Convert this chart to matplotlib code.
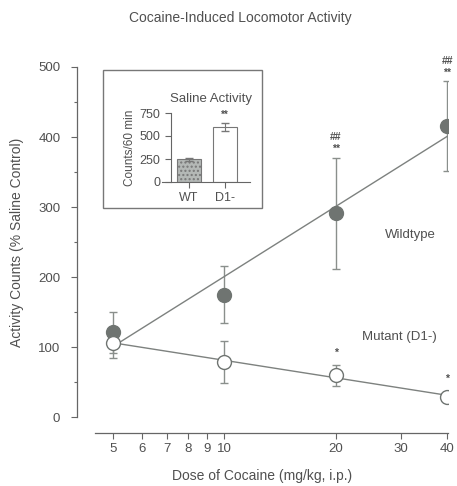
import numpy as np
import matplotlib
matplotlib.use('Agg')
import matplotlib.pyplot as plt
from matplotlib.ticker import FixedLocator, NullFormatter
from matplotlib.patches import Rectangle

plt.rcParams['font.family'] = ['Liberation Sans', 'DejaVu Sans']

# data
dose = [5, 10, 20, 40]
wt_mean = [121, 175, 291, 416]
wt_err = [29, 41, 79, 64]
mut_mean = [106, 79, 60, 29]
mut_err = [22, 30, 15, 4]

wt_marks = [(20, 383, '**'), (20, 400, '##'), (40, 491, '**'), (40, 509, '##')]
mut_marks = [(20, 91, '*'), (40, 54, '*')]

saline_groups = ['WT', 'D1-']
saline_mean = [245, 600]
saline_err = [20, 45]

grey = '#6f7471'
txt = '#505050'

fig = plt.figure(figsize=(4.57, 4.86), dpi=100)
ax = fig.add_axes([77/457, 1-417/486, 371/457, 350/486])

ax.set_xscale('log')
ax.set_xlim(4.0, 40.2)
ax.set_ylim(0, 500)

logd = np.log10(dose)
for mean, err, face in [(wt_mean, wt_err, grey), (mut_mean, mut_err, 'white')]:
	ax.errorbar(dose, mean, yerr=err, fmt='none', ecolor='#8a8f8c',
				elinewidth=1.0, capsize=3, capthick=1.0, zorder=2)
	# regression line on log dose
	k, b = np.polyfit(logd, mean, 1)
	xx = np.array([5, 40])
	ax.plot(xx, k*np.log10(xx)+b, color='#7d817f', lw=1.0, zorder=3)
	ax.plot(dose, mean, 'o', ms=10, mfc=face, mec=grey, mew=1.0, zorder=4)

for x, y, s in wt_marks + mut_marks:
	ax.text(x, y, s, ha='center', va='center', fontsize=7.5, color=txt,
			fontweight='bold', clip_on=False)

for sp in ['top', 'right']:
	ax.spines[sp].set_visible(False)
ax.spines['bottom'].set_position(('outward', 11.5))
ax.spines['bottom'].set_bounds(4.47, 40.2)
ax.spines['left'].set_bounds(0, 500)
for sp in ['bottom', 'left']:
	ax.spines[sp].set_color('#666666')
	ax.spines[sp].set_linewidth(0.9)

ax.xaxis.set_major_locator(FixedLocator([5, 6, 7, 8, 9, 10, 20, 30, 40]))
ax.xaxis.set_major_formatter(plt.FixedFormatter(['5', '6', '7', '8', '9', '10', '20', '30', '40']))
ax.xaxis.set_minor_locator(FixedLocator([]))
ax.xaxis.set_minor_formatter(NullFormatter())
ax.set_yticks([0, 100, 200, 300, 400, 500])
ax.set_yticks([50, 150, 250, 350, 450], minor=True)
ax.tick_params(which='both', direction='out', colors='#666666', labelcolor=txt,
			   labelsize=9.5, width=0.8)
ax.tick_params(which='major', length=4)
ax.tick_params(which='minor', length=2)
ax.tick_params(axis='y', pad=8)

ax.set_xlabel('Dose of Cocaine (mg/kg, i.p.)', fontsize=10, color=txt, labelpad=10)
ax.set_ylabel('Activity Counts (% Saline Control)', fontsize=10, color=txt, labelpad=10)
fig.text(240/457, 1-18/486, 'Cocaine-Induced Locomotor Activity', ha='center',
		 va='center', fontsize=10, color=txt)

fig.text(385/457, 1-235/486, 'Wildtype', ha='left', va='center', fontsize=9.5, color=txt)
fig.text(362/457, 1-337/486, 'Mutant (D1-)', ha='left', va='center', fontsize=9.5, color=txt)

# inset frame and bar chart
fig.patches.append(Rectangle((103/457, 1-208/486), 159/457, 138/486,
							 transform=fig.transFigure, fill=False,
							 edgecolor='#777777', lw=1.0))
ins = fig.add_axes([171/457, 1-182/486, 79/457, 69/486])
pos = np.arange(len(saline_groups))
ins.bar(pos, saline_mean, width=0.67, color=['#b4b8b6', 'white'],
		edgecolor='#777777', lw=0.8, hatch=['....', ''])
ins.errorbar(pos, saline_mean, yerr=saline_err, fmt='none', ecolor='#777777',
			 elinewidth=0.8, capsize=3)
ins.text(1, 730, '**', ha='center', va='center', fontsize=7, color=txt, fontweight='bold')
ins.set_xlim(-0.5, 1.69)
ins.set_ylim(0, 750)
ins.set_yticks([0, 250, 500, 750])
ins.set_xticks(pos)
ins.set_xticklabels(saline_groups)
ins.spines['bottom'].set_bounds(-0.75, 1.69)
for sp in ['top', 'right']:
	ins.spines[sp].set_visible(False)
for sp in ['bottom', 'left']:
	ins.spines[sp].set_color('#666666')
	ins.spines[sp].set_linewidth(0.8)
ins.tick_params(direction='out', colors='#666666', labelcolor=txt, labelsize=9,
				length=4, width=0.8)
ins.set_ylabel('Counts/60 min', fontsize=8.5, color=txt, labelpad=3)
ins.set_title('Saline Activity', fontsize=9.5, color=txt, pad=8)

fig.savefig('out.png', dpi=100)
